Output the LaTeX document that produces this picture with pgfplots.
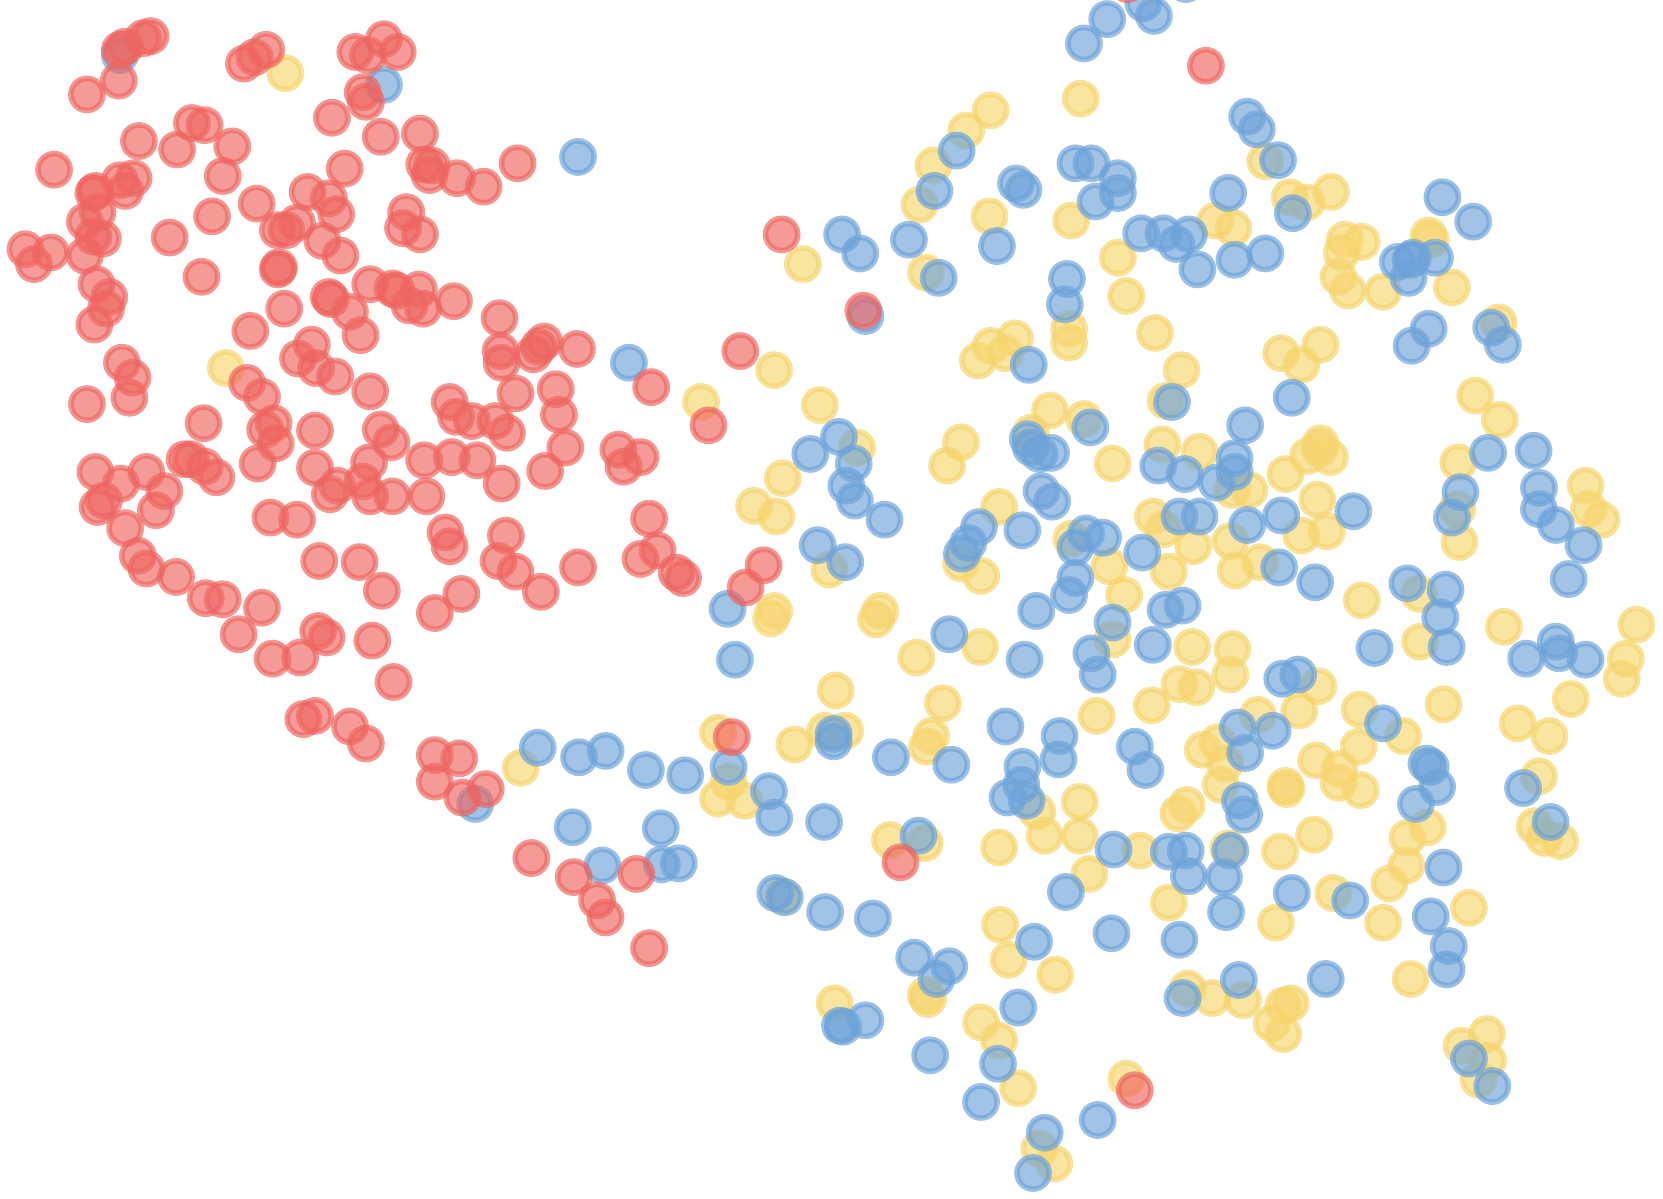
\documentclass[border=0pt]{standalone}
\usepackage{pgfplots}
\pgfplotsset{compat=1.18}
\definecolor{cred}{RGB}{238,101,96}
\definecolor{cblue}{RGB}{109,163,217}
\definecolor{cyellow}{RGB}{246,213,109}
\pgfplotsset{dot/.style={only marks, mark=*, mark size=7.6pt,
  mark options={draw=#1, fill=#1, draw opacity=.68, fill opacity=.65, line width=2.6pt}}}
\begin{document}
\begin{tikzpicture}
\useasboundingbox (0,0) rectangle (784pt,564.8pt);
% axis runs 30 units above the page so the cut-off dots at the top still get drawn
\begin{axis}[at={(0,0)}, anchor=south west, scale only axis, width=784pt, height=579.8pt,
  xmin=0, xmax=1568, ymin=-30, ymax=1129.6, y dir=reverse,
  axis lines=none, clip=true]
% yellow
\addplot[dot=cyellow] coordinates {
(269,69)(213,347)(1019,93)(934,104)(911,123)(880,156)(867,193)(933,204)(1010,208)(1193,152)
(1216,186)(1232,191)(1255,181)(1146,208)(1163,215)(873,257)(757,249)(1054,243)(1062,279)(1268,226)
(1284,228)(1265,238)(1262,261)(1271,274)(1304,275)(1369,271)(1347,222)(1349,226)(1008,310)(1008,323)
(922,340)(934,326)(948,333)(957,319)(1089,314)(1114,349)(1208,333)(1245,325)(1227,344)(1413,304)
(730,349)(661,379)(773,382)(990,387)(1022,395)(972,408)(1099,378)(1391,373)(1414,396)(808,422)
(738,451)(711,477)(732,487)(906,417)(893,439)(1049,437)(1096,419)(1131,426)(1212,447)(1233,430)
(1245,418)(1254,431)(1244,423)(1375,436)(1495,458)(1498,480)(1510,490)(1374,480)(1376,511)(942,478)
(1087,487)(1097,499)(1125,515)(1160,510)(1162,462)(1178,462)(1242,471)(1251,501)(1227,505)(1188,530)
(1165,538)(1102,539)(1046,534)(1010,508)(906,531)(925,543)(782,537)(1060,561)(1284,566)(1338,560)
(1339,605)(1418,591)(1543,589)(1533,621)(1529,640)(1481,659)(1461,694)(1431,682)(1361,664)(1451,732)
(1447,779)(1456,790)(1471,793)(730,576)(727,583)(830,576)(826,584)(864,620)(924,610)(1049,603)
(1124,610)(1162,612)(1160,636)(1112,645)(1128,648)(1086,665)(1034,675)(788,651)(889,663)(677,691)
(749,702)(778,689)(797,689)(878,694)(874,704)(687,737)(677,753)(702,755)(491,724)(1186,674)
(1225,670)(1243,647)(1282,669)(1323,694)(1281,704)(1241,717)(1263,725)(1262,738)(1283,745)(1134,707)
(1148,700)(1155,720)(1151,740)(1212,741)(1213,744)(1119,759)(1111,767)(1018,756)(978,765)(985,788)
(1018,788)(942,799)(839,792)(872,795)(1075,802)(1158,800)(1207,803)(1239,787)(1327,790)(1346,780)
(1326,816)(1310,833)(1027,824)(1102,851)(1257,842)(1203,870)(1304,870)(1385,856)(943,872)(951,905)
(995,919)(1120,932)(1143,941)(1172,943)(1330,923)(1217,946)(1210,948)(1199,965)(1210,975)(873,938)
(875,942)(787,946)(925,964)(942,981)(960,1026)(1062,1017)(1378,986)(1402,975)(1403,1000)(1394,1018)
(980,1083)(994,1097)(738,845)
};
% blue
\addplot[dot=cblue] coordinates {
(113,52)(362,80)(545,148)(593,342)(1022,41)(1044,18)(1088,15)(1078,3)(1118,-15)(1176,110)
(1185,122)(1205,151)(902,142)(881,180)(958,173)(965,179)(1014,154)(1029,154)(1054,168)(1054,182)
(1033,190)(1158,182)(1219,201)(1360,186)(1389,209)(794,221)(811,239)(857,226)(885,262)(940,232)
(1076,220)(1097,220)(1109,230)(1121,221)(1129,254)(1164,245)(1193,239)(1006,263)(1004,287)(816,298)
(970,344)(1318,247)(1330,245)(1332,243)(1328,262)(1353,243)(1347,310)(1331,326)(1406,309)(1417,325)
(1218,375)(1105,379)(1028,403)(1174,401)(764,428)(791,412)(805,437)(798,458)(806,472)(834,490)
(969,414)(972,422)(980,428)(991,427)(1092,439)(1117,447)(1147,455)(1164,432)(1164,445)(982,463)
(992,473)(1112,487)(1131,487)(1176,495)(1208,486)(1276,482)(964,500)(923,497)(913,512)(907,522)
(1014,516)(1024,503)(1040,507)(1077,521)(1014,545)(1008,561)(1206,535)(1240,549)(771,514)(797,530)
(686,574)(693,622)(977,576)(1099,575)(1115,571)(1049,587)(895,598)(966,622)(1029,616)(1035,636)
(1087,608)(1209,640)(1224,636)(1296,611)(1327,550)(1363,556)(1358,582)(1364,610)(1403,427)(1446,425)
(1451,460)(1377,464)(1369,488)(1451,480)(1467,495)(1493,514)(1479,546)(1439,621)(1467,605)(1470,616)
(1495,622)(507,705)(546,714)(571,708)(609,726)(646,731)(687,723)(725,746)(730,771)(777,775)
(786,692)(786,699)(840,714)(897,721)(948,685)(964,723)(999,694)(998,716)(950,752)(963,740)
(968,755)(1070,704)(1080,726)(1167,686)(1200,689)(1174,710)(1304,682)(1345,720)(1349,723)(1355,742)
(1335,758)(1436,743)(1462,775)(1169,755)(1173,768)(448,758)(540,780)(623,781)(568,816)(624,815)
(640,814)(731,842)(740,846)(778,860)(823,866)(866,788)(1050,801)(1102,803)(1118,802)(1121,826)
(1160,802)(1154,827)(1156,860)(1005,841)(1218,842)(1273,849)(1361,818)(1349,864)(1366,892)(1364,914)
(1048,880)(1112,886)(975,888)(862,903)(895,911)(883,923)(1168,924)(1250,923)(1115,941)(816,962)
(792,967)(795,968)(960,950)(877,995)(941,1003)(925,1039)(985,1068)(1035,1056)(974,1106)(1385,998)
(1407,1024)
};
% red
\addplot[dot=cred] coordinates {
(113,47)(118,44)(135,36)(142,34)(112,76)(82,89)(230,60)(240,54)(251,47)(335,49)
(347,52)(362,37)(375,49)(342,87)(345,96)(313,111)(359,129)(396,126)(131,133)(181,116)
(193,118)(167,141)(219,138)(51,160)(210,166)(126,168)(113,170)(118,180)(90,180)(88,182)
(92,200)(80,209)(88,223)(97,225)(160,224)(200,204)(242,192)(290,181)(310,187)(317,202)
(325,159)(400,155)(407,156)(405,165)(431,168)(456,176)(488,154)(383,200)(380,215)(396,221)
(280,210)(262,217)(270,217)(304,227)(321,241)(24,235)(48,238)(32,249)(80,241)(190,261)
(262,254)(263,252)(91,268)(103,280)(100,291)(89,306)(268,291)(236,312)(310,280)(312,282)
(330,294)(340,316)(349,268)(370,272)(374,274)(395,273)(386,288)(399,291)(428,284)(471,300)
(513,322)(508,327)(503,334)(472,331)(473,342)(544,329)(294,325)(281,338)(298,347)(316,355)
(115,342)(125,356)(122,375)(82,381)(233,361)(247,374)(349,369)(424,379)(430,393)(445,397)
(467,397)(478,408)(486,371)(524,367)(527,391)(533,422)(514,444)(192,399)(258,399)(250,405)
(260,418)(297,406)(359,405)(369,417)(400,434)(426,431)(450,434)(473,456)(243,437)(174,433)
(180,433)(193,440)(204,450)(138,445)(114,456)(90,445)(155,463)(147,481)(98,472)(92,478)
(118,498)(130,524)(138,536)(166,544)(194,564)(210,565)(247,573)(225,598)(257,621)(283,620)
(300,595)(308,601)(351,604)(371,643)(297,441)(318,458)(311,466)(342,454)(348,436)(349,468)
(370,468)(402,468)(255,488)(280,490)(301,529)(339,530)(360,557)(410,578)(435,560)(420,502)
(424,515)(477,505)(470,529)(486,539)(510,558)(545,535)(612,489)(583,424)(588,440)(604,431)
(620,519)(604,527)(638,540)(644,545)(720,533)(703,554)(614,365)(668,401)(698,331)(286,678)
(297,675)(330,685)(345,701)(410,712)(433,715)(410,737)(436,752)(458,744)(501,809)(541,827)
(600,824)(563,849)(571,865)(612,894)(737,221)(814,293)(1137,62)(690,695)(849,813)(1070,1028)
(1063,-15)
};
\end{axis}
\end{tikzpicture}
\end{document}
